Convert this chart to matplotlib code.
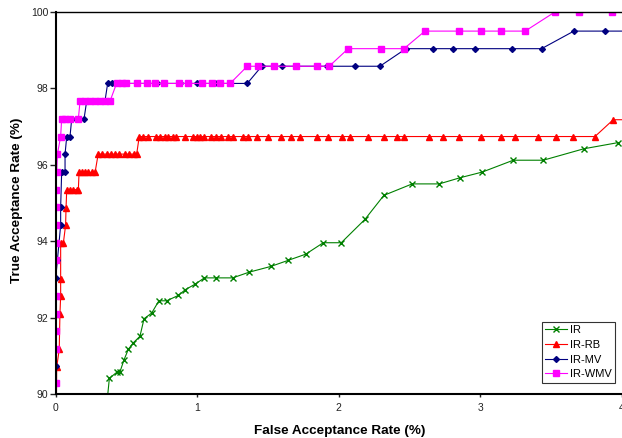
import matplotlib
matplotlib.use("Agg")
import matplotlib.pyplot as plt

plt.rcParams['font.family'] = ['Liberation Sans', 'DejaVu Sans']

# ---- data ----
ir_x = [0.36, 0.379, 0.435, 0.454, 0.482, 0.513, 0.548, 0.595, 0.624, 0.678, 0.729, 0.784,
        0.866, 0.915, 0.987, 1.05, 1.13, 1.25, 1.367, 1.52, 1.643, 1.766, 1.89, 2.017,
        2.184, 2.318, 2.518, 2.709, 2.855, 3.013, 3.232, 3.444, 3.731, 3.971]
ir_y = [89.7, 90.41, 90.58, 90.58, 90.89, 91.17, 91.34, 91.51, 91.97, 92.12, 92.44, 92.44,
        92.58, 92.73, 92.88, 93.04, 93.04, 93.04, 93.19, 93.34, 93.5, 93.66, 93.96, 93.96,
        94.57, 95.2, 95.5, 95.5, 95.66, 95.81, 96.12, 96.12, 96.42, 96.58]

rb_x = [0.005, 0.007, 0.025, 0.03, 0.035, 0.035, 0.035, 0.054, 0.07, 0.073,
        0.078, 0.101, 0.124, 0.148, 0.16,
        0.165, 0.184, 0.207, 0.23, 0.254, 0.278,
        0.30, 0.33, 0.36, 0.39, 0.42, 0.45, 0.49, 0.52, 0.55, 0.572,
        0.59, 0.62, 0.65, 0.71, 0.74, 0.77, 0.79, 0.83, 0.85, 0.91, 0.97, 1.0, 1.02, 1.05,
        1.10, 1.13, 1.17, 1.22, 1.25, 1.325, 1.36, 1.424, 1.497, 1.589, 1.664, 1.725,
        1.847, 1.923, 2.02, 2.078, 2.208, 2.32, 2.408, 2.46, 2.634, 2.737, 2.848, 3.004,
        3.143, 3.246, 3.41, 3.531, 3.651, 3.809, 3.938, 4.1]
rb_y = [89.7, 90.7, 91.17, 92.1, 92.56, 93.02, 93.95, 93.95, 94.42, 94.87,
        95.35, 95.35, 95.35, 95.35, 95.35,
        95.8, 95.8, 95.8, 95.8, 95.8, 95.8,
        96.28, 96.28, 96.28, 96.28, 96.28, 96.28, 96.28, 96.28, 96.28, 96.28,
        96.74, 96.74, 96.74, 96.74, 96.74, 96.74, 96.74, 96.74, 96.74, 96.74, 96.74, 96.74,
        96.74, 96.74, 96.74, 96.74, 96.74, 96.74, 96.74, 96.74, 96.74, 96.74, 96.74, 96.74,
        96.74, 96.74, 96.74, 96.74, 96.74, 96.74, 96.74, 96.74, 96.74, 96.74, 96.74, 96.74,
        96.74, 96.74, 96.74, 96.74, 96.74, 96.74, 96.74, 96.74, 97.18, 97.18]

mv_x = [0.0, 0.0, 0.0, 0.012, 0.035, 0.035, 0.042, 0.066, 0.066, 0.078, 0.101, 0.113, 0.2,
        0.219, 0.348, 0.367, 0.395, 0.442, 0.643, 0.713, 0.878, 0.996, 1.125, 1.232, 1.353,
        1.455, 1.596, 1.914, 2.114, 2.29, 2.474, 2.667, 2.804, 2.961, 3.22, 3.432, 3.66,
        3.879, 4.1]
mv_y = [89.7, 90.73, 93.04, 93.5, 94.42, 94.89, 95.8, 95.8, 96.28, 96.74, 96.74, 97.2, 97.2,
        97.67, 97.67, 98.13, 98.13, 98.13, 98.13, 98.13, 98.13, 98.13, 98.13, 98.13, 98.13,
        98.58, 98.58, 98.58, 98.58, 98.58, 99.04, 99.04, 99.04, 99.04, 99.04, 99.04, 99.5,
        99.5, 99.5]

wmv_x = [0.0, 0.0, 0.0, 0.0, 0.0, 0.0, 0.0, 0.0, 0.0, 0.0, 0.0, 0.007, 0.012, 0.035,
         0.042, 0.066, 0.101, 0.16, 0.172, 0.207, 0.242, 0.278, 0.313, 0.348, 0.384,
         0.43, 0.466, 0.497, 0.572, 0.643, 0.701, 0.765, 0.869, 0.937, 1.031, 1.102, 1.161,
         1.232, 1.353, 1.431, 1.542, 1.697, 1.843, 1.932, 2.066, 2.295, 2.46, 2.608, 2.848,
         3.004, 3.143, 3.316, 3.526, 3.698, 3.93, 4.1]
wmv_y = [89.7, 90.28, 91.17, 91.65, 92.1, 92.56, 93.5, 93.95, 94.42, 94.89, 95.35, 95.8,
         96.28, 96.74, 97.2, 97.2, 97.2, 97.2, 97.67, 97.67, 97.67, 97.67, 97.67, 97.67,
         97.67, 98.13, 98.13, 98.13, 98.13, 98.13, 98.13, 98.13, 98.13, 98.13, 98.13, 98.13,
         98.13, 98.13, 98.58, 98.58, 98.58, 98.58, 98.58, 98.58, 99.04, 99.04, 99.04, 99.5,
         99.5, 99.5, 99.5, 99.5, 100.0, 100.0, 100.0, 100.0]

labels = ["IR", "IR-RB", "IR-MV", "IR-WMV"]
x_ticks = [0, 1, 2, 3, 4]
y_ticks = [90, 92, 94, 96, 98, 100]

# ---- figure ----
W, H = 622, 438
fig = plt.figure(figsize=(W / 100, H / 100), dpi=100)
ax = fig.add_axes([55.7 / W, 1 - 394 / H, (622 - 55.7) / W, (394 - 12) / H])

ax.plot(ir_x, ir_y, color='#008000', lw=0.8, marker='x', ms=4, mew=1, label=labels[0])
ax.plot(rb_x, rb_y, color='#FF0000', lw=0.8, marker='^', ms=4.5, label=labels[1])
ax.plot(mv_x, mv_y, color='#000080', lw=0.8, marker='D', ms=3, label=labels[2])
ax.plot(wmv_x, wmv_y, color='#FF00FF', lw=0.8, marker='s', ms=4.2, label=labels[3])

ax.set_xlim(0, 4)
ax.set_ylim(90, 100)
ax.set_xticks(x_ticks)
ax.set_yticks(y_ticks)
ax.set_xticklabels([str(v) for v in x_ticks])
ax.set_yticklabels([str(v) for v in y_ticks])
ax.tick_params(axis='y', direction='out', length=4, width=1, pad=1.2, labelsize=7.5,
               colors='#222222')
ax.tick_params(axis='x', direction='out', length=2.5, width=1, pad=4, labelsize=7.5,
               colors='#222222')

for s in ['left', 'bottom']:
    ax.spines[s].set_linewidth(1.5)
    ax.spines[s].set_color('black')
ax.spines['top'].set_linewidth(1)
ax.spines['right'].set_visible(False)

fig.text(339.5 / W, 1 - 434 / H, "False Acceptance Rate (%)", ha='center', va='baseline',
         fontsize=9.7, fontweight='bold')
fig.text(17 / W, 1 - 200.5 / H, "True Acceptance Rate (%)", ha='center', va='center',
         rotation=90, fontsize=9.7, fontweight='bold')

leg = ax.legend(loc='lower right', bbox_to_anchor=(0.9877, 0.0296), borderaxespad=0,
                fontsize=8, frameon=True, fancybox=False, edgecolor='black',
                handlelength=2.0, handletextpad=0.25, labelspacing=0.42, borderpad=0.3)
leg.get_frame().set_linewidth(0.8)

fig.savefig("out.png", dpi=100)
